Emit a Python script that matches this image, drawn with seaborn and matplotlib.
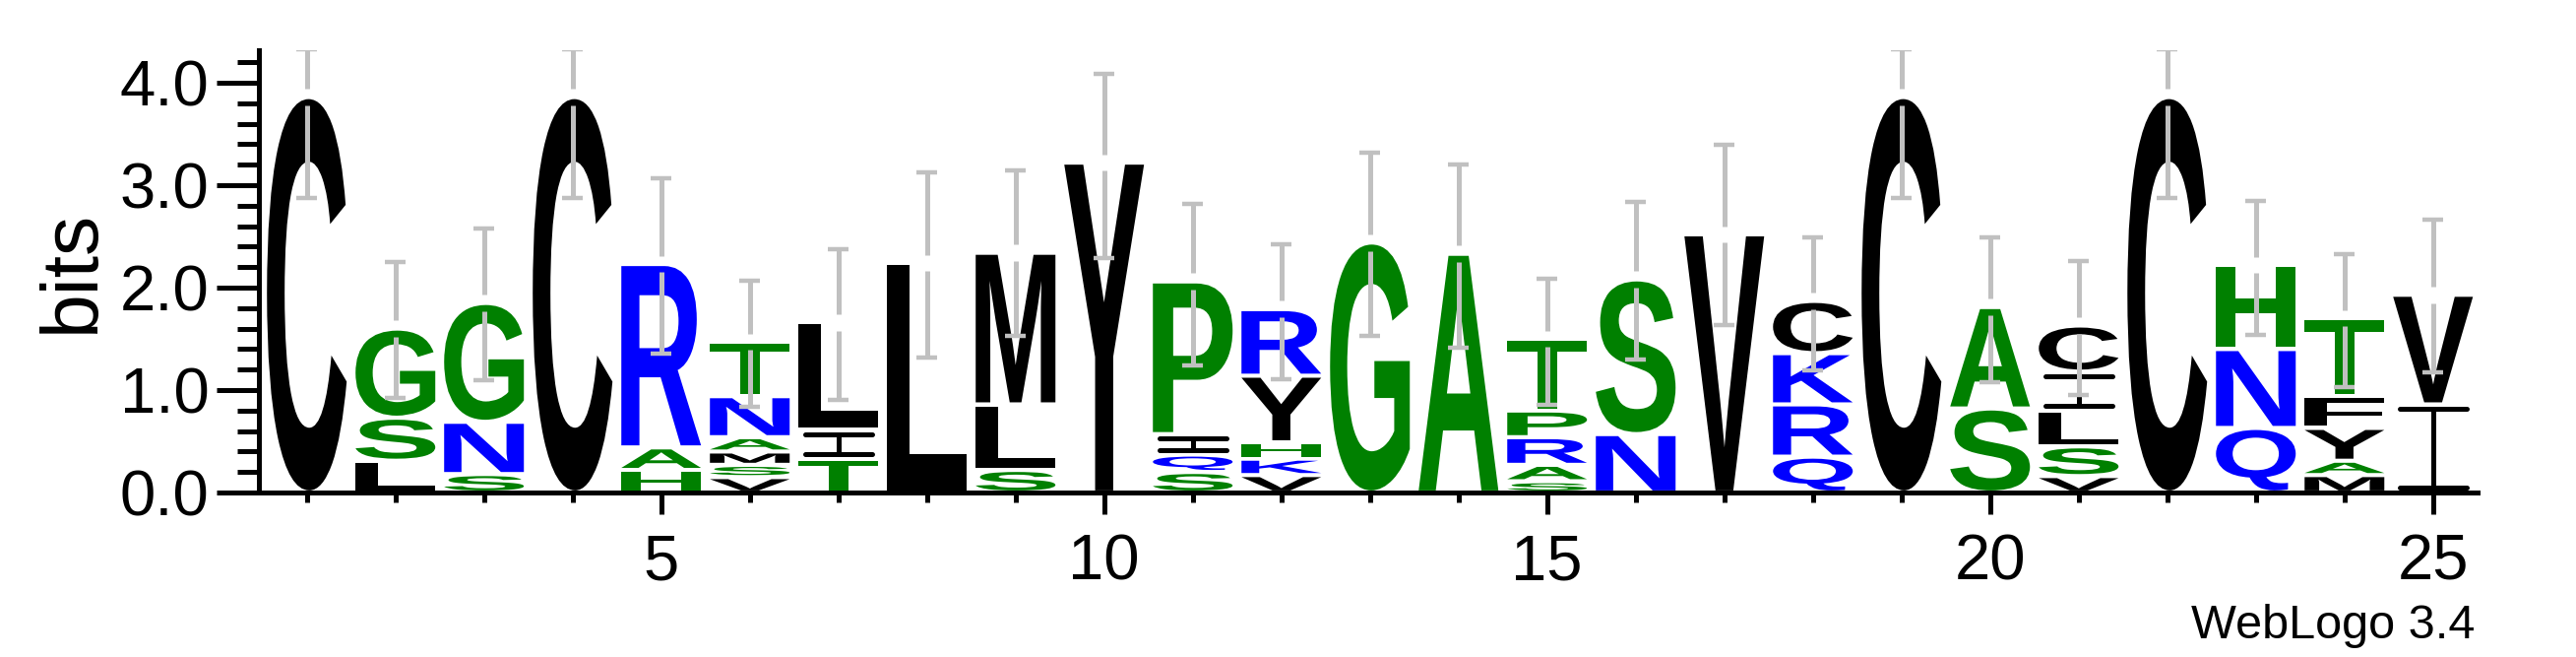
import matplotlib
matplotlib.use("Agg")
import matplotlib.pyplot as plt
import matplotlib.transforms as mtransforms
import seaborn as sns
from matplotlib.textpath import TextPath
from matplotlib.patches import PathPatch
from matplotlib.font_manager import FontProperties
from matplotlib.ticker import FixedLocator, MultipleLocator, FormatStrFormatter

# sequence logo data: letters per position, bottom to top, with heights in bits
positions = list(range(1, 26))
stack_letters = ["C", "LSG", "SNG", "C", "HAR", "VSMANT", "TIL", "L", "SLM", "Y",
                 "SQIP", "VKHYR", "G", "A", "SARPT", "NS", "V", "QRKC", "C", "SA",
                 "VSLIC", "C", "QNH", "MAYFT", "IV"]
stack_heights = [
    [3.86],
    [0.31, 0.42, 0.87],
    [0.18, 0.51, 1.16],
    [3.86],
    [0.22, 0.22, 1.79],
    [0.15, 0.12, 0.13, 0.14, 0.40, 0.53],
    [0.33, 0.28, 1.05],
    [2.24],
    [0.22, 0.64, 1.48],
    [3.22],
    [0.20, 0.17, 0.20, 1.49],
    [0.17, 0.16, 0.16, 0.65, 0.65],
    [2.44],
    [2.33],
    [0.11, 0.16, 0.27, 0.26, 0.70],
    [0.57, 1.51],
    [2.52],
    [0.35, 0.51, 0.50, 0.51],
    [3.86],
    [0.82, 0.99],
    [0.16, 0.29, 0.35, 0.38, 0.45],
    [3.86],
    [0.63, 0.77, 0.82],
    [0.17, 0.14, 0.32, 0.31, 0.76],
    [0.86, 1.07],
]
err_top = [4.33, 2.25, 2.58, 4.33, 3.07, 2.07, 2.37, 3.12, 3.14, 4.09, 2.82, 2.42, 3.32,
           3.20, 2.09, 2.84, 3.39, 2.49, 4.33, 2.49, 2.26, 4.33, 2.85, 2.33, 2.66]
err_bottom = [2.875, 0.92, 1.10, 2.875, 1.36, 0.84, 0.90, 1.32, 1.53, 2.29, 1.24, 1.11, 1.53,
              1.41, 0.86, 1.30, 1.63, 1.19, 2.875, 1.08, 0.95, 2.875, 1.54, 1.03, 1.17]
y_ticks = [0, 1, 2, 3, 4]
x_ticks = [5, 10, 15, 20, 25]

# hydrophobicity colour scheme
colors = {}
for ch in "RKDENQ":
    colors[ch] = "#0000ff"
for ch in "SGHTAP":
    colors[ch] = "#008000"
for ch in "YVMCLFIW":
    colors[ch] = "#000000"

sns.set_style("ticks")
plt.rcParams["font.family"] = ["Liberation Sans", "DejaVu Sans"]
plt.rcParams["text.color"] = "black"
plt.rcParams["axes.labelcolor"] = "black"
plt.rcParams["xtick.color"] = "black"
plt.rcParams["ytick.color"] = "black"

fig = plt.figure(figsize=(26.17, 6.67), dpi=100)
ax = fig.add_axes([0.1004, 0.2504, 0.8613, 0.6736])

letter_font = FontProperties(family="Liberation Sans", weight="bold")
inset = 0.02
letter_width = 0.9


def draw_letter(ch, x, y0, h):
    col = colors[ch]
    lo = y0 + inset
    hi = y0 + h - inset
    if ch == "I":
        # WebLogo draws I as a thin serifed stroke
        lw_bits = 0.024
        ax.plot([x, x], [lo + lw_bits, hi - lw_bits], color=col, lw=3.6,
                solid_capstyle="butt", zorder=2)
        for yy in (lo + lw_bits, hi - lw_bits):
            ax.plot([x - 0.38, x + 0.38], [yy, yy], color=col, lw=3.6,
                    solid_capstyle="round", zorder=2)
        return
    path = TextPath((0, 0), ch, size=1, prop=letter_font)
    ext = path.get_extents()
    tr = (mtransforms.Affine2D()
          .translate(-ext.x0, -ext.y0)
          .scale(letter_width / ext.width, (hi - lo) / ext.height)
          .translate(x - letter_width / 2, lo))
    ax.add_patch(PathPatch(tr.transform_path(path), facecolor=col,
                           edgecolor="none", zorder=2))


for pos, letters, heights in zip(positions, stack_letters, stack_heights):
    base = 0.0
    for ch, h in zip(letters, heights):
        draw_letter(ch, pos, base, h)
        base += h

# error bars, with a small break around the top of each stack
gap = 0.08
cap = 0.117
for pos, heights, top, bot in zip(positions, stack_heights, err_top, err_bottom):
    total = sum(heights)
    ax.vlines(pos, total + gap, top, color="#c0c0c0", lw=3.6, zorder=3)
    ax.vlines(pos, bot, total - gap, color="#c0c0c0", lw=3.6, zorder=3)
    ax.hlines([top, bot], pos - cap, pos + cap, color="#c0c0c0", lw=3.2, zorder=3)

ax.set_xlim(0.456, 25.5)
ax.set_ylim(0, 4.32)

sns.despine(ax=ax)
for side in ("left", "bottom"):
    ax.spines[side].set_linewidth(3.6)
    ax.spines[side].set_color("black")

ax.yaxis.set_major_locator(FixedLocator(y_ticks))
ax.yaxis.set_major_formatter(FormatStrFormatter("%.1f"))
ax.yaxis.set_minor_locator(MultipleLocator(0.2))
ax.xaxis.set_major_locator(FixedLocator(x_ticks))
ax.xaxis.set_minor_locator(MultipleLocator(1))

ax.tick_params(axis="y", which="major", length=31, width=3.6, pad=5,
               labelsize=47, colors="black", direction="out")
ax.tick_params(axis="y", which="minor", length=16, width=3.6, colors="black",
               direction="out")
ax.tick_params(axis="x", which="major", length=16, width=3.6, pad=14,
               labelsize=47, colors="black", direction="out")
ax.tick_params(axis="x", which="minor", length=7, width=3.6, colors="black",
               direction="out")

ax.set_ylabel("bits", fontsize=58, color="black")
ax.yaxis.set_label_coords(-0.067, 0.5)

fig.text(2514 / 2617, 19 / 667, "WebLogo 3.4", ha="right", va="baseline",
         fontsize=35, color="black")

fig.savefig("out.png", dpi=100)
